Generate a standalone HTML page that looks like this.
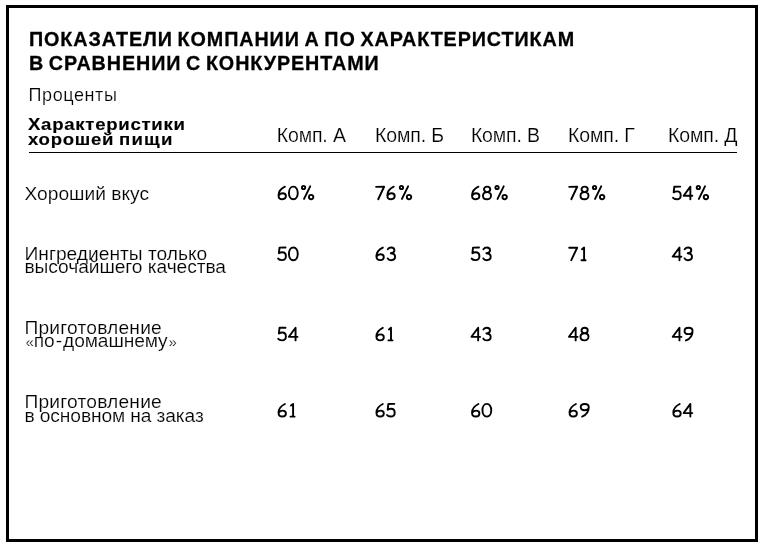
<!DOCTYPE html>
<html lang="ru">
<head>
<meta charset="utf-8">
<title>Показатели компании А</title>
<style>
html,body{margin:0;padding:0;background:#fff;}
body{width:765px;height:551px;overflow:hidden;}
.page{position:absolute;left:0;top:0;width:765px;height:551px;background:#fff;overflow:hidden;will-change:transform;font-family:"Liberation Sans",sans-serif;color:#000;}
.frame{position:absolute;left:6px;top:5px;width:746px;height:531px;border:3px solid #000;}
.t{position:absolute;white-space:nowrap;line-height:1;transform-origin:0 0;}
.title{font-weight:bold;font-size:21px;transform:scaleX(0.94);letter-spacing:0.97px;word-spacing:-1.8px;-webkit-text-stroke:0.3px #000;}
.sub{font-size:18px;letter-spacing:0.6px;}
.hd{font-weight:bold;font-size:17.3px;letter-spacing:0.68px;transform:scaleX(1.075);-webkit-text-stroke:0.15px #000;}
.col{font-size:19.5px;letter-spacing:-0.15px;}
.lab{font-size:19.2px;}
.lab,.col,.sub{-webkit-text-stroke:0.18px #fff;}
.q{font-size:15px;}
.nums{position:absolute;left:0;top:0;}
.num{font-size:19.5px;color:transparent;}
.rule{position:absolute;left:29px;top:152px;width:708px;height:1px;background:#000;}
</style>
</head>
<body>
<div class="page">
<div class="frame"></div>
<div class="t title" style="left:28.50px;top:27.67px;">ПОКАЗАТЕЛИ КОМПАНИИ А ПО ХАРАКТЕРИСТИКАМ</div>
<div class="t title" style="left:28.50px;top:52.07px;">В СРАВНЕНИИ С КОНКУРЕНТАМИ</div>
<div class="t sub" style="left:28.50px;top:86.01px;">Проценты</div>
<div class="t hd" style="left:27.90px;top:116.21px;">Характеристики</div>
<div class="t hd" style="left:27.90px;top:131.21px;">хорошей <span style="letter-spacing:1.1px;margin-left:-1px">пищи</span></div>
<div class="t col" style="left:276.80px;top:125.79px;">Комп. А</div>
<div class="t col" style="left:375.10px;top:125.79px;">Комп. Б</div>
<div class="t col" style="left:470.90px;top:125.79px;">Комп. В</div>
<div class="t col" style="left:568.10px;top:125.79px;">Комп. Г</div>
<div class="t col" style="left:668.10px;top:125.79px;">Комп. Д</div>
<div class="rule"></div>
<div class="t lab" style="left:24.50px;top:184.05px;">Хороший вкус</div>
<div class="t lab" style="left:24.50px;top:244.05px;">Ингредиенты только</div>
<div class="t lab" style="left:24.50px;top:257.25px;letter-spacing:-0.07px;">высочайшего качества</div>
<div class="t lab" style="left:24.50px;top:318.25px;letter-spacing:0.2px;">Приготовление</div>
<div class="t lab" style="left:24.50px;top:331.45px;letter-spacing:-0.1px;"><span class="q" style="margin-left:1px">«</span>по<span style="margin:0 1.1px">-</span>домашнему<span class="q" style="margin-left:0.8px">»</span></div>
<div class="t lab" style="left:24.50px;top:392.25px;letter-spacing:0.2px;">Приготовление</div>
<div class="t lab" style="left:24.50px;top:405.75px;letter-spacing:-0.11px;">в основном на заказ</div>
<div class="t num" style="left:277.00px;top:183.59px;">60%</div>
<div class="t num" style="left:374.90px;top:183.59px;">76%</div>
<div class="t num" style="left:470.50px;top:183.59px;">68%</div>
<div class="t num" style="left:568.00px;top:183.59px;">78%</div>
<div class="t num" style="left:671.80px;top:183.59px;">54%</div>
<div class="t num" style="left:277.00px;top:244.49px;">50</div>
<div class="t num" style="left:374.90px;top:244.49px;">63</div>
<div class="t num" style="left:470.50px;top:244.49px;">53</div>
<div class="t num" style="left:568.00px;top:244.49px;">71</div>
<div class="t num" style="left:671.80px;top:244.49px;">43</div>
<div class="t num" style="left:277.00px;top:324.69px;">54</div>
<div class="t num" style="left:374.90px;top:324.69px;">61</div>
<div class="t num" style="left:470.50px;top:324.69px;">43</div>
<div class="t num" style="left:568.00px;top:324.69px;">48</div>
<div class="t num" style="left:671.80px;top:324.69px;">49</div>
<div class="t num" style="left:277.00px;top:400.89px;">61</div>
<div class="t num" style="left:374.90px;top:400.89px;">65</div>
<div class="t num" style="left:470.50px;top:400.89px;">60</div>
<div class="t num" style="left:568.00px;top:400.89px;">69</div>
<div class="t num" style="left:671.80px;top:400.89px;">64</div>
<svg class="nums" width="765" height="551" viewBox="0 0 765 551"><g fill="none" stroke="#000" stroke-width="1.9" stroke-linecap="round" stroke-linejoin="round">
<path transform="translate(277.00,185.80)" d="M7.9,0.9 C4.9,2.4 1.5,5.7 1.5,9.6 C1.5,12.0 3.1,13.45 5.3,13.45 C7.5,13.45 8.9,12.2 8.9,10.3 C8.9,8.6 7.5,7.5 5.6,7.5 C3.9,7.5 2.3,8.5 1.6,10.0"/>
<path transform="translate(287.90,185.80)" d="M5.45,0.8 C2.8,0.8 1.05,3.6 1.05,7.15 C1.05,10.7 2.8,13.5 5.45,13.5 C8.1,13.5 9.85,10.7 9.85,7.15 C9.85,3.6 8.1,0.8 5.45,0.8 Z"/>
<path transform="translate(298.80,185.80)" d="M6.4,1.7 A1.65,1.65 0 1 1 3.1,1.7 A1.65,1.65 0 1 1 6.4,1.7 Z M11.4,0.5 L5.25,13.1 M14.55,11.3 A2.2,2.2 0 1 1 10.15,11.3 A2.2,2.2 0 1 1 14.55,11.3 Z"/>
<path transform="translate(374.90,185.80)" d="M1.2,1.05 L9.2,0.95 L3.3,13.45"/>
<path transform="translate(385.80,185.80)" d="M7.9,0.9 C4.9,2.4 1.5,5.7 1.5,9.6 C1.5,12.0 3.1,13.45 5.3,13.45 C7.5,13.45 8.9,12.2 8.9,10.3 C8.9,8.6 7.5,7.5 5.6,7.5 C3.9,7.5 2.3,8.5 1.6,10.0"/>
<path transform="translate(396.70,185.80)" d="M6.4,1.7 A1.65,1.65 0 1 1 3.1,1.7 A1.65,1.65 0 1 1 6.4,1.7 Z M11.4,0.5 L5.25,13.1 M14.55,11.3 A2.2,2.2 0 1 1 10.15,11.3 A2.2,2.2 0 1 1 14.55,11.3 Z"/>
<path transform="translate(470.50,185.80)" d="M7.9,0.9 C4.9,2.4 1.5,5.7 1.5,9.6 C1.5,12.0 3.1,13.45 5.3,13.45 C7.5,13.45 8.9,12.2 8.9,10.3 C8.9,8.6 7.5,7.5 5.6,7.5 C3.9,7.5 2.3,8.5 1.6,10.0"/>
<path transform="translate(481.40,185.80)" d="M5.7,6.3 C3.9,6.3 2.6,5.1 2.6,3.55 C2.6,2.0 3.9,0.8 5.7,0.8 C7.5,0.8 8.85,2.0 8.85,3.55 C8.85,5.1 7.5,6.3 5.7,6.3 C3.3,6.3 1.6,7.8 1.6,9.9 C1.6,12.0 3.3,13.5 5.6,13.5 C7.9,13.5 9.6,12.0 9.6,9.9 C9.6,7.8 7.9,6.3 5.7,6.3 Z"/>
<path transform="translate(492.30,185.80)" d="M6.4,1.7 A1.65,1.65 0 1 1 3.1,1.7 A1.65,1.65 0 1 1 6.4,1.7 Z M11.4,0.5 L5.25,13.1 M14.55,11.3 A2.2,2.2 0 1 1 10.15,11.3 A2.2,2.2 0 1 1 14.55,11.3 Z"/>
<path transform="translate(568.00,185.80)" d="M1.2,1.05 L9.2,0.95 L3.3,13.45"/>
<path transform="translate(578.90,185.80)" d="M5.7,6.3 C3.9,6.3 2.6,5.1 2.6,3.55 C2.6,2.0 3.9,0.8 5.7,0.8 C7.5,0.8 8.85,2.0 8.85,3.55 C8.85,5.1 7.5,6.3 5.7,6.3 C3.3,6.3 1.6,7.8 1.6,9.9 C1.6,12.0 3.3,13.5 5.6,13.5 C7.9,13.5 9.6,12.0 9.6,9.9 C9.6,7.8 7.9,6.3 5.7,6.3 Z"/>
<path transform="translate(589.80,185.80)" d="M6.4,1.7 A1.65,1.65 0 1 1 3.1,1.7 A1.65,1.65 0 1 1 6.4,1.7 Z M11.4,0.5 L5.25,13.1 M14.55,11.3 A2.2,2.2 0 1 1 10.15,11.3 A2.2,2.2 0 1 1 14.55,11.3 Z"/>
<path transform="translate(671.80,185.80)" d="M8.5,0.8 L2.5,0.9 L1.9,6.6 C2.9,5.9 4.1,5.6 5.3,5.6 C7.5,5.6 8.9,7.2 8.9,9.6 C8.9,12.0 7.2,13.45 4.9,13.45 C3.2,13.45 1.9,12.9 1.2,11.9"/>
<path transform="translate(682.70,185.80)" d="M7.66,13.5 L7.66,0.8 L0.95,9.9 L9.6,10.0"/>
<path transform="translate(693.60,185.80)" d="M6.4,1.7 A1.65,1.65 0 1 1 3.1,1.7 A1.65,1.65 0 1 1 6.4,1.7 Z M11.4,0.5 L5.25,13.1 M14.55,11.3 A2.2,2.2 0 1 1 10.15,11.3 A2.2,2.2 0 1 1 14.55,11.3 Z"/>
<path transform="translate(277.00,246.70)" d="M8.5,0.8 L2.5,0.9 L1.9,6.6 C2.9,5.9 4.1,5.6 5.3,5.6 C7.5,5.6 8.9,7.2 8.9,9.6 C8.9,12.0 7.2,13.45 4.9,13.45 C3.2,13.45 1.9,12.9 1.2,11.9"/>
<path transform="translate(287.90,246.70)" d="M5.45,0.8 C2.8,0.8 1.05,3.6 1.05,7.15 C1.05,10.7 2.8,13.5 5.45,13.5 C8.1,13.5 9.85,10.7 9.85,7.15 C9.85,3.6 8.1,0.8 5.45,0.8 Z"/>
<path transform="translate(374.90,246.70)" d="M7.9,0.9 C4.9,2.4 1.5,5.7 1.5,9.6 C1.5,12.0 3.1,13.45 5.3,13.45 C7.5,13.45 8.9,12.2 8.9,10.3 C8.9,8.6 7.5,7.5 5.6,7.5 C3.9,7.5 2.3,8.5 1.6,10.0"/>
<path transform="translate(385.80,246.70)" d="M2.0,2.6 C2.8,1.4 4.0,0.8 5.4,0.8 C7.3,0.8 8.6,1.9 8.6,3.6 C8.6,5.3 7.0,6.4 5.0,6.6 C7.4,6.7 9.3,8.0 9.3,10.1 C9.3,12.2 7.6,13.5 5.2,13.5 C3.6,13.5 2.4,12.8 1.9,11.7"/>
<path transform="translate(470.50,246.70)" d="M8.5,0.8 L2.5,0.9 L1.9,6.6 C2.9,5.9 4.1,5.6 5.3,5.6 C7.5,5.6 8.9,7.2 8.9,9.6 C8.9,12.0 7.2,13.45 4.9,13.45 C3.2,13.45 1.9,12.9 1.2,11.9"/>
<path transform="translate(481.40,246.70)" d="M2.0,2.6 C2.8,1.4 4.0,0.8 5.4,0.8 C7.3,0.8 8.6,1.9 8.6,3.6 C8.6,5.3 7.0,6.4 5.0,6.6 C7.4,6.7 9.3,8.0 9.3,10.1 C9.3,12.2 7.6,13.5 5.2,13.5 C3.6,13.5 2.4,12.8 1.9,11.7"/>
<path transform="translate(568.00,246.70)" d="M1.2,1.05 L9.2,0.95 L3.3,13.45"/>
<path transform="translate(578.90,246.70)" d="M3.1,2.5 L5.2,0.8 L5.2,13.5 M2.6,13.5 L6.7,13.5"/>
<path transform="translate(671.80,246.70)" d="M7.66,13.5 L7.66,0.8 L0.95,9.9 L9.6,10.0"/>
<path transform="translate(682.70,246.70)" d="M2.0,2.6 C2.8,1.4 4.0,0.8 5.4,0.8 C7.3,0.8 8.6,1.9 8.6,3.6 C8.6,5.3 7.0,6.4 5.0,6.6 C7.4,6.7 9.3,8.0 9.3,10.1 C9.3,12.2 7.6,13.5 5.2,13.5 C3.6,13.5 2.4,12.8 1.9,11.7"/>
<path transform="translate(277.00,326.90)" d="M8.5,0.8 L2.5,0.9 L1.9,6.6 C2.9,5.9 4.1,5.6 5.3,5.6 C7.5,5.6 8.9,7.2 8.9,9.6 C8.9,12.0 7.2,13.45 4.9,13.45 C3.2,13.45 1.9,12.9 1.2,11.9"/>
<path transform="translate(287.90,326.90)" d="M7.66,13.5 L7.66,0.8 L0.95,9.9 L9.6,10.0"/>
<path transform="translate(374.90,326.90)" d="M7.9,0.9 C4.9,2.4 1.5,5.7 1.5,9.6 C1.5,12.0 3.1,13.45 5.3,13.45 C7.5,13.45 8.9,12.2 8.9,10.3 C8.9,8.6 7.5,7.5 5.6,7.5 C3.9,7.5 2.3,8.5 1.6,10.0"/>
<path transform="translate(385.80,326.90)" d="M3.1,2.5 L5.2,0.8 L5.2,13.5 M2.6,13.5 L6.7,13.5"/>
<path transform="translate(470.50,326.90)" d="M7.66,13.5 L7.66,0.8 L0.95,9.9 L9.6,10.0"/>
<path transform="translate(481.40,326.90)" d="M2.0,2.6 C2.8,1.4 4.0,0.8 5.4,0.8 C7.3,0.8 8.6,1.9 8.6,3.6 C8.6,5.3 7.0,6.4 5.0,6.6 C7.4,6.7 9.3,8.0 9.3,10.1 C9.3,12.2 7.6,13.5 5.2,13.5 C3.6,13.5 2.4,12.8 1.9,11.7"/>
<path transform="translate(568.00,326.90)" d="M7.66,13.5 L7.66,0.8 L0.95,9.9 L9.6,10.0"/>
<path transform="translate(578.90,326.90)" d="M5.7,6.3 C3.9,6.3 2.6,5.1 2.6,3.55 C2.6,2.0 3.9,0.8 5.7,0.8 C7.5,0.8 8.85,2.0 8.85,3.55 C8.85,5.1 7.5,6.3 5.7,6.3 C3.3,6.3 1.6,7.8 1.6,9.9 C1.6,12.0 3.3,13.5 5.6,13.5 C7.9,13.5 9.6,12.0 9.6,9.9 C9.6,7.8 7.9,6.3 5.7,6.3 Z"/>
<path transform="translate(671.80,326.90)" d="M7.66,13.5 L7.66,0.8 L0.95,9.9 L9.6,10.0"/>
<path transform="translate(682.70,326.90)" d="M9.85,4.0 C9.85,2.2 8.2,0.85 5.85,0.85 C3.5,0.85 1.85,2.2 1.85,4.0 C1.85,5.8 3.4,7.2 5.7,7.2 C8.1,7.2 9.85,5.8 9.85,4.0 C9.95,8.2 7.5,11.8 3.2,13.5"/>
<path transform="translate(277.00,403.10)" d="M7.9,0.9 C4.9,2.4 1.5,5.7 1.5,9.6 C1.5,12.0 3.1,13.45 5.3,13.45 C7.5,13.45 8.9,12.2 8.9,10.3 C8.9,8.6 7.5,7.5 5.6,7.5 C3.9,7.5 2.3,8.5 1.6,10.0"/>
<path transform="translate(287.90,403.10)" d="M3.1,2.5 L5.2,0.8 L5.2,13.5 M2.6,13.5 L6.7,13.5"/>
<path transform="translate(374.90,403.10)" d="M7.9,0.9 C4.9,2.4 1.5,5.7 1.5,9.6 C1.5,12.0 3.1,13.45 5.3,13.45 C7.5,13.45 8.9,12.2 8.9,10.3 C8.9,8.6 7.5,7.5 5.6,7.5 C3.9,7.5 2.3,8.5 1.6,10.0"/>
<path transform="translate(385.80,403.10)" d="M8.5,0.8 L2.5,0.9 L1.9,6.6 C2.9,5.9 4.1,5.6 5.3,5.6 C7.5,5.6 8.9,7.2 8.9,9.6 C8.9,12.0 7.2,13.45 4.9,13.45 C3.2,13.45 1.9,12.9 1.2,11.9"/>
<path transform="translate(470.50,403.10)" d="M7.9,0.9 C4.9,2.4 1.5,5.7 1.5,9.6 C1.5,12.0 3.1,13.45 5.3,13.45 C7.5,13.45 8.9,12.2 8.9,10.3 C8.9,8.6 7.5,7.5 5.6,7.5 C3.9,7.5 2.3,8.5 1.6,10.0"/>
<path transform="translate(481.40,403.10)" d="M5.45,0.8 C2.8,0.8 1.05,3.6 1.05,7.15 C1.05,10.7 2.8,13.5 5.45,13.5 C8.1,13.5 9.85,10.7 9.85,7.15 C9.85,3.6 8.1,0.8 5.45,0.8 Z"/>
<path transform="translate(568.00,403.10)" d="M7.9,0.9 C4.9,2.4 1.5,5.7 1.5,9.6 C1.5,12.0 3.1,13.45 5.3,13.45 C7.5,13.45 8.9,12.2 8.9,10.3 C8.9,8.6 7.5,7.5 5.6,7.5 C3.9,7.5 2.3,8.5 1.6,10.0"/>
<path transform="translate(578.90,403.10)" d="M9.85,4.0 C9.85,2.2 8.2,0.85 5.85,0.85 C3.5,0.85 1.85,2.2 1.85,4.0 C1.85,5.8 3.4,7.2 5.7,7.2 C8.1,7.2 9.85,5.8 9.85,4.0 C9.95,8.2 7.5,11.8 3.2,13.5"/>
<path transform="translate(671.80,403.10)" d="M7.9,0.9 C4.9,2.4 1.5,5.7 1.5,9.6 C1.5,12.0 3.1,13.45 5.3,13.45 C7.5,13.45 8.9,12.2 8.9,10.3 C8.9,8.6 7.5,7.5 5.6,7.5 C3.9,7.5 2.3,8.5 1.6,10.0"/>
<path transform="translate(682.70,403.10)" d="M7.66,13.5 L7.66,0.8 L0.95,9.9 L9.6,10.0"/>
</g></svg>
</div>
</body>
</html>
